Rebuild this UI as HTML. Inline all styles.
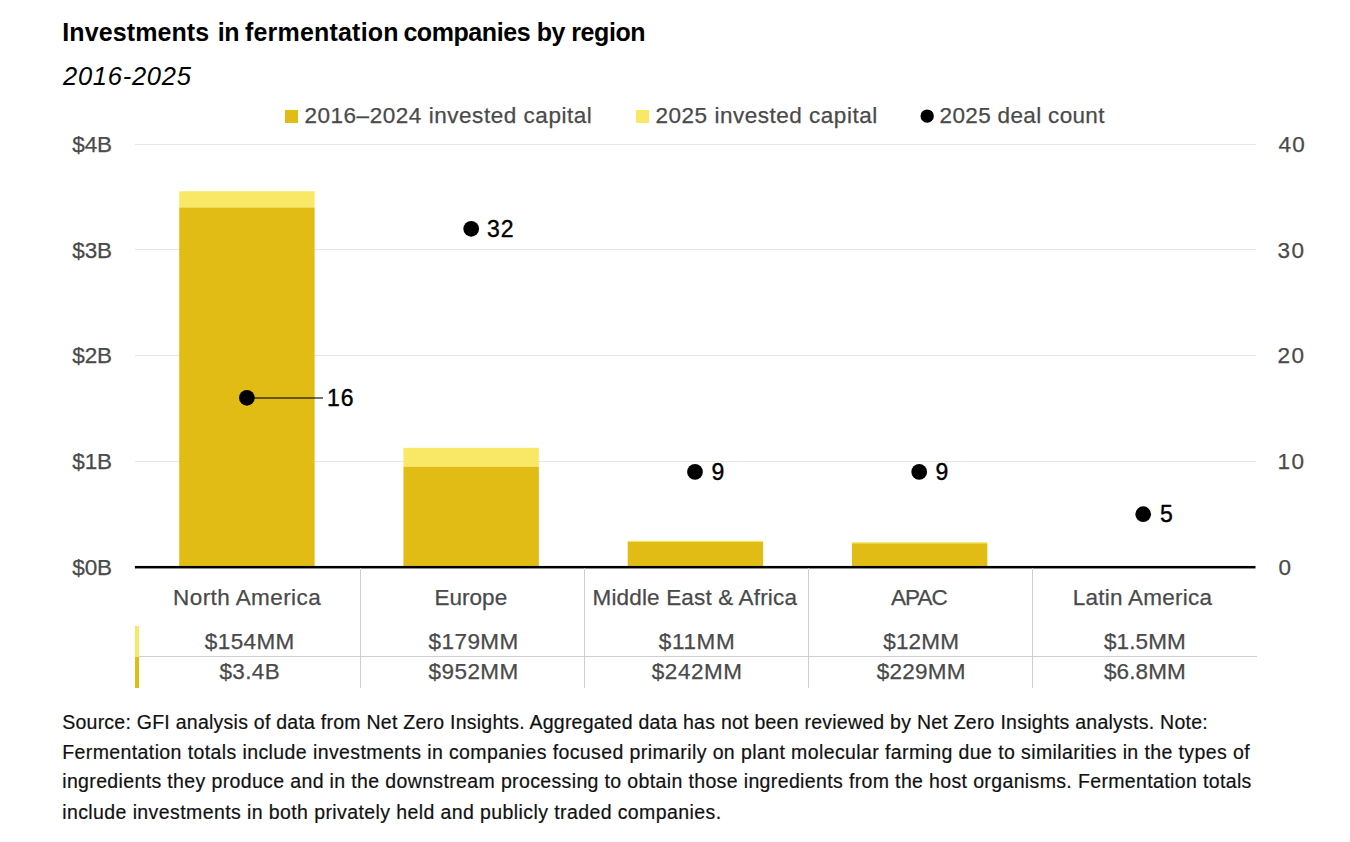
<!DOCTYPE html>
<html><head><meta charset="utf-8"><style>
html,body{margin:0;padding:0;background:#fff;}
body{width:1350px;height:842px;position:relative;overflow:hidden;font-family:"Liberation Sans",sans-serif;}
body>div{position:absolute;}
.t{white-space:nowrap;}
</style></head><body>
<div style="left:134.7px;top:143.5px;width:1121.3px;height:1px;background:#e6e6e6;"></div>
<div style="left:134.7px;top:249.3px;width:1121.3px;height:1px;background:#e6e6e6;"></div>
<div style="left:134.7px;top:355.0px;width:1121.3px;height:1px;background:#e6e6e6;"></div>
<div style="left:134.7px;top:460.8px;width:1121.3px;height:1px;background:#e6e6e6;"></div>
<svg style="position:absolute;left:0;top:0" width="1350" height="842" viewBox="0 0 1350 842"><rect x="179.20" y="191.23" width="135.4" height="16.31" fill="#f8e865"/><rect x="179.20" y="207.54" width="135.4" height="360.06" fill="#e0bc14"/><rect x="403.45" y="447.83" width="135.4" height="18.96" fill="#f8e865"/><rect x="403.45" y="466.78" width="135.4" height="100.82" fill="#e0bc14"/><rect x="627.70" y="540.81" width="135.4" height="1.16" fill="#f8e865"/><rect x="627.70" y="541.97" width="135.4" height="25.63" fill="#e0bc14"/><rect x="851.95" y="542.08" width="135.4" height="1.27" fill="#f8e865"/><rect x="851.95" y="543.35" width="135.4" height="24.25" fill="#e0bc14"/><rect x="1076.20" y="566.72" width="135.4" height="0.16" fill="#f8e865"/><rect x="1076.20" y="566.88" width="135.4" height="0.72" fill="#e0bc14"/></svg>
<svg style="position:absolute;left:0;top:0" width="1350" height="842"><rect x="134.9" y="565.95" width="1120.6" height="2.5" fill="#000"/></svg>
<div style="left:247px;top:397.0px;width:75.8px;height:1.6px;background:rgba(0,0,0,0.55);"></div>
<svg style="position:absolute;left:0;top:0" width="1350" height="842"><circle cx="246.9" cy="397.8" r="7.85" fill="#000"/><circle cx="471.2" cy="228.8" r="7.85" fill="#000"/><circle cx="695.0" cy="471.9" r="7.85" fill="#000"/><circle cx="919.2" cy="471.9" r="7.85" fill="#000"/><circle cx="1143.2" cy="514.2" r="7.85" fill="#000"/><circle cx="927.2" cy="116.1" r="6.7" fill="#000"/></svg>
<div style="left:285px;top:109.6px;width:13.3px;height:13.2px;background:#e0bc14;"></div>
<div style="left:636.2px;top:109.7px;width:13.1px;height:13.2px;background:#f8e865;"></div>
<div style="left:360.2px;top:568px;width:1px;height:119.8px;background:#cfcfd3;"></div>
<div style="left:584.2px;top:568px;width:1px;height:119.8px;background:#cfcfd3;"></div>
<div style="left:808.3px;top:568px;width:1px;height:119.8px;background:#cfcfd3;"></div>
<div style="left:1031.9px;top:568px;width:1px;height:119.8px;background:#cfcfd3;"></div>
<div style="left:139px;top:656.0px;width:1117.6px;height:1px;background:#cfcfd3;"></div>
<div style="left:135.1px;top:625.5px;width:3.8px;height:31px;background:#f8e865;"></div>
<div style="left:135.1px;top:656.5px;width:3.8px;height:31px;background:#e0bc14;"></div>
<div class="t" style="left:62.3px;top:19.9px;font-size:25px;line-height:25px;letter-spacing:0.1px;color:#000;font-weight:bold;">Investments</div>
<div class="t" style="left:217.8px;top:19.9px;font-size:25px;line-height:25px;letter-spacing:-0.5px;color:#000;font-weight:bold;">in</div>
<div class="t" style="left:245.0px;top:19.9px;font-size:25px;line-height:25px;letter-spacing:0.191px;color:#000;font-weight:bold;">fermentation</div>
<div class="t" style="left:403.4px;top:19.9px;font-size:25px;line-height:25px;letter-spacing:-0.425px;color:#000;font-weight:bold;">companies</div>
<div class="t" style="left:536.85px;top:19.9px;font-size:25px;line-height:25px;letter-spacing:-0.5px;color:#000;font-weight:bold;">by</div>
<div class="t" style="left:571.2px;top:19.9px;font-size:25px;line-height:25px;letter-spacing:-0.4px;color:#000;font-weight:bold;">region</div>
<div class="t" style="left:63.0px;top:63.9px;font-size:25.5px;line-height:25.5px;letter-spacing:0.738px;color:#000;font-style:italic;">2016-2025</div>
<div class="t" style="left:304.4px;top:105.3px;font-size:22.5px;line-height:22.5px;letter-spacing:0.54px;color:#4a4a4a;-webkit-text-stroke:0.25px #4a4a4a;">2016–2024 invested capital</div>
<div class="t" style="left:655.5px;top:105.3px;font-size:22.5px;line-height:22.5px;letter-spacing:0.515px;color:#4a4a4a;-webkit-text-stroke:0.25px #4a4a4a;">2025 invested capital</div>
<div class="t" style="left:939.6px;top:105.3px;font-size:22.5px;line-height:22.5px;letter-spacing:0.336px;color:#4a4a4a;-webkit-text-stroke:0.25px #4a4a4a;">2025 deal count</div>
<div class="t" style="left:72.3px;top:133.7px;font-size:22.5px;line-height:22.5px;letter-spacing:-0.1px;color:#4a4a4a;-webkit-text-stroke:0.25px #4a4a4a;">$4B</div>
<div class="t" style="left:1278.5px;top:133.9px;font-size:22.5px;line-height:22.5px;letter-spacing:1.3px;color:#4a4a4a;-webkit-text-stroke:0.25px #4a4a4a;">40</div>
<div class="t" style="left:72.3px;top:239.5px;font-size:22.5px;line-height:22.5px;letter-spacing:-0.1px;color:#4a4a4a;-webkit-text-stroke:0.25px #4a4a4a;">$3B</div>
<div class="t" style="left:1277.5px;top:239.7px;font-size:22.5px;line-height:22.5px;letter-spacing:1.6px;color:#4a4a4a;-webkit-text-stroke:0.25px #4a4a4a;">30</div>
<div class="t" style="left:72.3px;top:345.2px;font-size:22.5px;line-height:22.5px;letter-spacing:-0.1px;color:#4a4a4a;-webkit-text-stroke:0.25px #4a4a4a;">$2B</div>
<div class="t" style="left:1277.5px;top:345.4px;font-size:22.5px;line-height:22.5px;letter-spacing:1.6px;color:#4a4a4a;-webkit-text-stroke:0.25px #4a4a4a;">20</div>
<div class="t" style="left:72.3px;top:451.0px;font-size:22.5px;line-height:22.5px;letter-spacing:-0.1px;color:#4a4a4a;-webkit-text-stroke:0.25px #4a4a4a;">$1B</div>
<div class="t" style="left:1277.5px;top:451.2px;font-size:22.5px;line-height:22.5px;letter-spacing:1.4px;color:#4a4a4a;-webkit-text-stroke:0.25px #4a4a4a;">10</div>
<div class="t" style="left:72.3px;top:556.7px;font-size:22.5px;line-height:22.5px;letter-spacing:-0.1px;color:#4a4a4a;-webkit-text-stroke:0.25px #4a4a4a;">$0B</div>
<div class="t" style="left:1278.5px;top:556.9px;font-size:22.5px;line-height:22.5px;letter-spacing:0.0px;color:#4a4a4a;-webkit-text-stroke:0.25px #4a4a4a;">0</div>
<div class="t" style="left:327.0px;top:386.8px;font-size:23px;line-height:23px;letter-spacing:1.0px;color:#000;-webkit-text-stroke:0.4px #000;">16</div>
<div class="t" style="left:486.9px;top:217.8px;font-size:23px;line-height:23px;letter-spacing:1.0px;color:#000;-webkit-text-stroke:0.4px #000;">32</div>
<div class="t" style="left:711.4px;top:460.9px;font-size:23px;line-height:23px;letter-spacing:0.0px;color:#000;-webkit-text-stroke:0.4px #000;">9</div>
<div class="t" style="left:935.6px;top:460.9px;font-size:23px;line-height:23px;letter-spacing:0.0px;color:#000;-webkit-text-stroke:0.4px #000;">9</div>
<div class="t" style="left:1159.9px;top:503.2px;font-size:23px;line-height:23px;letter-spacing:0.0px;color:#000;-webkit-text-stroke:0.4px #000;">5</div>
<div class="t" style="left:173.1px;top:586.9px;font-size:22.5px;line-height:22.5px;letter-spacing:0.417px;color:#4a4a4a;-webkit-text-stroke:0.25px #4a4a4a;">North America</div>
<div class="t" style="left:204.85px;top:631.2px;font-size:22.5px;line-height:22.5px;letter-spacing:0.38px;color:#4a4a4a;-webkit-text-stroke:0.25px #4a4a4a;">$154MM</div>
<div class="t" style="left:219.45px;top:661.4px;font-size:22.5px;line-height:22.5px;letter-spacing:0.375px;color:#4a4a4a;-webkit-text-stroke:0.25px #4a4a4a;">$3.4B</div>
<div class="t" style="left:434.4px;top:586.9px;font-size:22.5px;line-height:22.5px;letter-spacing:0.04px;color:#4a4a4a;-webkit-text-stroke:0.25px #4a4a4a;">Europe</div>
<div class="t" style="left:428.6px;top:631.2px;font-size:22.5px;line-height:22.5px;letter-spacing:0.42px;color:#4a4a4a;-webkit-text-stroke:0.25px #4a4a4a;">$179MM</div>
<div class="t" style="left:428.6px;top:661.4px;font-size:22.5px;line-height:22.5px;letter-spacing:0.42px;color:#4a4a4a;-webkit-text-stroke:0.25px #4a4a4a;">$952MM</div>
<div class="t" style="left:592.5px;top:586.9px;font-size:22.5px;line-height:22.5px;letter-spacing:0.163px;color:#4a4a4a;-webkit-text-stroke:0.25px #4a4a4a;">Middle East &amp; Africa</div>
<div class="t" style="left:658.8px;top:631.2px;font-size:22.5px;line-height:22.5px;letter-spacing:0.65px;color:#4a4a4a;-webkit-text-stroke:0.25px #4a4a4a;">$11MM</div>
<div class="t" style="left:651.8px;top:661.4px;font-size:22.5px;line-height:22.5px;letter-spacing:0.54px;color:#4a4a4a;-webkit-text-stroke:0.25px #4a4a4a;">$242MM</div>
<div class="t" style="left:891.0px;top:586.9px;font-size:22.5px;line-height:22.5px;letter-spacing:-0.933px;color:#4a4a4a;-webkit-text-stroke:0.25px #4a4a4a;">APAC</div>
<div class="t" style="left:883.2px;top:631.2px;font-size:22.5px;line-height:22.5px;letter-spacing:0.2px;color:#4a4a4a;-webkit-text-stroke:0.25px #4a4a4a;">$12MM</div>
<div class="t" style="left:876.7px;top:661.4px;font-size:22.5px;line-height:22.5px;letter-spacing:0.24px;color:#4a4a4a;-webkit-text-stroke:0.25px #4a4a4a;">$229MM</div>
<div class="t" style="left:1072.7px;top:586.9px;font-size:22.5px;line-height:22.5px;letter-spacing:0.258px;color:#4a4a4a;-webkit-text-stroke:0.25px #4a4a4a;">Latin America</div>
<div class="t" style="left:1104.0px;top:631.2px;font-size:22.5px;line-height:22.5px;letter-spacing:0.1px;color:#4a4a4a;-webkit-text-stroke:0.25px #4a4a4a;">$1.5MM</div>
<div class="t" style="left:1104.0px;top:661.4px;font-size:22.5px;line-height:22.5px;letter-spacing:0.1px;color:#4a4a4a;-webkit-text-stroke:0.25px #4a4a4a;">$6.8MM</div>
<div class="t" style="left:62.2px;top:712.8px;font-size:19.5px;line-height:19.5px;letter-spacing:0.248px;color:#111;-webkit-text-stroke:0.2px #111;">Source: GFI analysis of data from Net Zero Insights. Aggregated data has not been reviewed by Net Zero Insights analysts. Note:</div>
<div class="t" style="left:62.2px;top:742.6px;font-size:19.5px;line-height:19.5px;letter-spacing:0.399px;color:#111;-webkit-text-stroke:0.2px #111;">Fermentation totals include investments in companies focused primarily on plant molecular farming due to similarities in the types of</div>
<div class="t" style="left:62.2px;top:772.4px;font-size:19.5px;line-height:19.5px;letter-spacing:0.362px;color:#111;-webkit-text-stroke:0.2px #111;">ingredients they produce and in the downstream processing to obtain those ingredients from the host organisms. Fermentation totals</div>
<div class="t" style="left:62.2px;top:802.5px;font-size:19.5px;line-height:19.5px;letter-spacing:0.404px;color:#111;-webkit-text-stroke:0.2px #111;">include investments in both privately held and publicly traded companies.</div>
</body></html>
